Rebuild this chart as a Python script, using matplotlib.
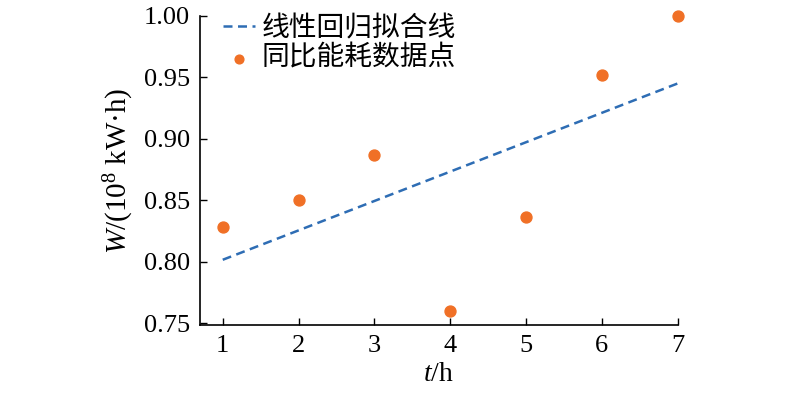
import numpy as np
import matplotlib
matplotlib.use('Agg')
import matplotlib.pyplot as plt

# Data
hours = [1, 2, 3, 4, 5, 6, 7]
energy = [0.828, 0.850, 0.887, 0.760, 0.836, 0.952, 1.000]
x_ticks = [1, 2, 3, 4, 5, 6, 7]
y_ticks = [0.75, 0.80, 0.85, 0.90, 0.95, 1.00]

plt.rcParams['font.family'] = ['Liberation Serif', 'Noto Sans CJK SC']
plt.rcParams['mathtext.fontset'] = 'custom'
plt.rcParams['mathtext.rm'] = 'Liberation Serif'
plt.rcParams['mathtext.it'] = 'Liberation Serif:italic'

# linear regression line through the data
k, b = np.polyfit(hours, energy, 1)
fit_x = [hours[0], hours[-1]]
fit_y = [k * x + b for x in fit_x]

fig = plt.figure(figsize=(8, 3.95), dpi=100)
ax = fig.add_axes([0.25, 0.177, 0.597, 0.783])

ax.plot(fit_x, fit_y, linestyle=(0, (3.6, 2.2)), color='#2E6DB4', linewidth=1.8,
        label='线性回归拟合线')
ax.scatter(hours, energy, s=62, color='#F07026', zorder=3, clip_on=False,
           label='同比能耗数据点')

ax.set_xlim(0.7, 7.0)
ax.set_ylim(0.7485, 1.0)
ax.set_xticks(x_ticks)
ax.set_yticks(y_ticks)
ax.set_yticklabels([f'{v:.2f}' for v in y_ticks])
ax.tick_params(direction='in', length=5, width=1, labelsize=19, pad=7)
for s in ['top', 'right']:
    ax.spines[s].set_visible(False)
for s in ['left', 'bottom']:
    ax.spines[s].set_linewidth(1.2)

ax.set_xlabel(r'$t$/h', fontsize=20, labelpad=4)
ax.set_ylabel(r'$W$/(10$^{8}$ kW·h)', fontsize=21, labelpad=6)

leg = ax.legend(loc='upper left', bbox_to_anchor=(0.025, 1.045), frameon=False,
                prop={'family': 'Noto Sans CJK SC', 'size': 20},
                handlelength=1.15, handletextpad=0.25, labelspacing=0.0,
                borderaxespad=0, markerscale=0.8)

fig.savefig('out.png', dpi=100)
